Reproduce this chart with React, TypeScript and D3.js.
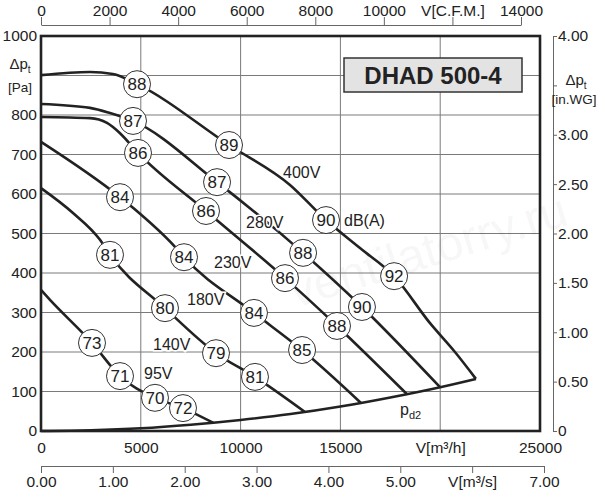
import { useRef, useEffect } from 'react';
import * as d3 from 'd3';

type Pt = [number, number]; // [m3/h, Pa]
type Lbl = [number, number, number]; // [m3/h, Pa, dB(A)]

// characteristic curves, read from the sheet
const curve400: Pt[] = [[0, 901], [2455, 909], [3600, 904], [4810, 878], [9420, 724], [12475, 623], [14280, 534], [15980, 463], [17690, 392], [19490, 273], [20740, 200], [21790, 132]];
const curve280: Pt[] = [[0, 828], [2455, 818], [3457, 805], [4610, 785], [8820, 630], [13130, 451], [16080, 314], [19990, 111]];
const curve230: Pt[] = [[0, 795], [2455, 792], [3307, 780], [3958, 754], [4860, 704], [8267, 557], [12225, 387], [14830, 266], [18340, 93]];
const curve180: Pt[] = [[0, 732], [3958, 592], [4609, 565], [6713, 466], [7165, 440], [10670, 299], [13080, 205], [16030, 71]];
const curve140: Pt[] = [[0, 615], [1603, 552], [2956, 484], [3457, 446], [6212, 311], [8768, 197], [10720, 137], [13226, 48]];
const curve95: Pt[] = [[0, 357], [451, 332], [2555, 223], [3958, 139], [5711, 84], [7114, 58], [8617, 21]];

const labels400: Lbl[] = [[4810, 878, 88], [9420, 724, 89], [14280, 534, 90], [17690, 392, 92]];
const labels280: Lbl[] = [[4610, 785, 87], [8820, 630, 87], [13130, 451, 88], [16080, 314, 90]];
const labels230: Lbl[] = [[4860, 704, 86], [8267, 557, 86], [12225, 387, 86], [14830, 266, 88]];
const labels180: Lbl[] = [[3958, 592, 84], [7165, 440, 84], [10670, 299, 84], [13080, 205, 85]];
const labels140: Lbl[] = [[3457, 446, 81], [6212, 311, 80], [8768, 197, 79], [10720, 137, 81]];
const labels95: Lbl[] = [[2555, 223, 73], [3958, 139, 71], [5711, 84, 70], [7114, 58, 72]];

// dynamic pressure line
const pd2Q = [0, 2500, 5000, 7500, 10000, 12500, 15000, 17500, 20000, 21790];
const pd2P = [0, 2, 7, 16, 28, 43, 62, 85, 111, 132];

// voltage / unit notes: [text, m3/h, Pa]
const notes: [string, number, number][] = [
  ['400V', 12124, 656],
  ['280V', 10270, 529],
  ['230V', 8667, 428],
  ['180V', 7315, 334],
  ['140V', 5611, 220],
  ['95V', 5160, 147],
  ['dB(A)', 15180, 534],
];

const gridQ = [5000, 10000, 15000, 20000];
const gridP = [100, 200, 300, 400, 500, 600, 700, 800, 900];
const m3hTicks = [0, 5000, 10000, 15000, 20000, 25000];
const paTicks = [0, 100, 200, 300, 400, 500, 600, 700, 800, 1000];
const cfmTicks = [0, 2000, 4000, 6000, 8000, 10000, 12000, 14000];
const m3sTicks = [0, 1, 2, 3, 4, 5, 6, 7];
const wgTicks = [0, 0.5, 1, 1.5, 2, 2.5, 3, 3.5, 4];

const FONT = '"Liberation Sans", Arial, sans-serif';
const INK = '#222';

export default function App() {
  const svgRef = useRef<SVGSVGElement>(null);

  useEffect(() => {
    if (!svgRef.current) return;
    const svg = d3.select(svgRef.current);
    svg.selectAll('*').remove();

    const x = d3.scaleLinear().domain([0, 25000]).range([41, 540]);
    const y = d3.scaleLinear().domain([0, 1000]).range([431, 36]);
    const xCfm = d3.scaleLinear().domain([0, 14000]).range([41, 521]);
    const xM3s = d3.scaleLinear().domain([0, 7]).range([41, 544]);
    const yWg = d3.scaleLinear().domain([0, 4]).range([431, 36]);

    // grid
    const grid = svg.append('g').attr('stroke', '#7a7a7a').attr('stroke-width', 1);
    gridQ.forEach((q) => grid.append('line').attr('x1', x(q)).attr('x2', x(q)).attr('y1', y(0)).attr('y2', y(1000)));
    gridP.forEach((p) => grid.append('line').attr('x1', x(0)).attr('x2', x(25000)).attr('y1', y(p)).attr('y2', y(p)));

    // watermark
    svg.append('text')
      .attr('transform', 'translate(428,250) rotate(-17)')
      .attr('text-anchor', 'middle').attr('dy', '0.35em')
      .attr('font-family', FONT).attr('font-size', 48)
      .attr('fill', '#000').attr('fill-opacity', 0.05)
      .text('ventilatorry.ru');

    const line = d3.line<Pt>().x((d) => x(d[0])).y((d) => y(d[1])).curve(d3.curveMonotoneX);

    // pd2
    const pd2: Pt[] = pd2Q.map((q, i) => [q, pd2P[i]]);
    svg.append('path').attr('d', line(pd2)).attr('fill', 'none')
      .attr('stroke', INK).attr('stroke-width', 2.6);

    const curves = [curve400, curve280, curve230, curve180, curve140, curve95];
    curves.forEach((c) => {
      svg.append('path').attr('d', line(c)).attr('fill', 'none')
        .attr('stroke', INK).attr('stroke-width', 2.6).attr('stroke-linejoin', 'round');
    });

    // frame
    svg.append('rect').attr('x', x(0)).attr('y', y(1000))
      .attr('width', x(25000) - x(0)).attr('height', y(0) - y(1000))
      .attr('fill', 'none').attr('stroke', INK).attr('stroke-width', 2.6);

    // voltage notes
    notes.forEach(([t, q, p]) => {
      svg.append('text').attr('x', x(q)).attr('y', y(p)).attr('dy', '0.36em')
        .attr('font-family', FONT).attr('font-size', 16).attr('fill', INK)
        .attr('stroke', '#fff').attr('stroke-width', 3).attr('paint-order', 'stroke')
        .text(t);
    });

    // pd2 label
    const pd = svg.append('text').attr('x', x(17990)).attr('y', y(53)).attr('dy', '0.3em')
      .attr('font-family', FONT).attr('font-size', 16).attr('fill', INK);
    pd.append('tspan').text('p');
    pd.append('tspan').attr('font-size', 11).attr('dy', 4).text('d2');

    // dB(A) circles
    const allLabels = [labels400, labels280, labels230, labels180, labels140, labels95].flat();
    const lg = svg.append('g').selectAll('g').data(allLabels).enter().append('g')
      .attr('transform', (d) => `translate(${x(d[0])},${y(d[1])})`);
    lg.append('circle').attr('r', 13.5).attr('fill', '#fff').attr('stroke', '#333').attr('stroke-width', 1);
    lg.append('text').attr('text-anchor', 'middle').attr('dy', '0.36em')
      .attr('font-family', FONT).attr('font-size', 17).attr('fill', INK)
      .text((d) => String(d[2]));

    // title box
    svg.append('rect').attr('x', 344).attr('y', 58).attr('width', 178).attr('height', 34)
      .attr('fill', '#e3e3e3').attr('stroke', '#333').attr('stroke-width', 1.5);
    svg.append('text').attr('x', 433).attr('y', 75).attr('dy', '0.36em')
      .attr('text-anchor', 'middle').attr('font-family', FONT)
      .attr('font-size', 24).attr('font-weight', 'bold').attr('fill', INK)
      .text('DHAD 500-4');

    const styleAxis = (g: d3.Selection<SVGGElement, unknown, null, undefined>, size: number) => {
      g.attr('font-family', FONT);
      g.selectAll('text').attr('fill', INK).attr('font-size', size);
      g.selectAll('line').attr('stroke', '#666');
      g.select('.domain').attr('stroke', '#666');
    };

    // top axis, CFM
    const top = svg.append('g').attr('transform', 'translate(0,25)')
      .call(d3.axisTop(xCfm).tickValues(cfmTicks).tickSize(8).tickSizeOuter(0).tickPadding(1)
        .tickFormat((d) => (d === 12000 ? 'V[C.F.M.]' : String(d))));
    styleAxis(top, 15.5);

    // bottom axis, m3/h
    const bot = svg.append('g').attr('transform', 'translate(0,431)')
      .call(d3.axisBottom(x).tickValues(m3hTicks).tickSize(0).tickPadding(11)
        .tickFormat((d) => (d === 20000 ? 'V[m³/h]' : String(d))));
    bot.select('.domain').remove();
    styleAxis(bot, 15.5);

    // bottom axis, m3/s
    const bot2 = svg.append('g').attr('transform', 'translate(0,466)')
      .call(d3.axisBottom(xM3s).tickValues(m3sTicks).tickSize(7).tickSizeOuter(0).tickPadding(3)
        .tickFormat((d) => (d === 6 ? 'V[m³/s]' : (d as number).toFixed(2))));
    styleAxis(bot2, 15.5);

    // left axis, Pa
    const left = svg.append('g').attr('transform', 'translate(41,0)')
      .call(d3.axisLeft(y).tickValues(paTicks).tickSize(0).tickPadding(4).tickFormat((d) => String(d)));
    left.select('.domain').remove();
    styleAxis(left, 15.5);

    // right axis, in.WG
    const right = svg.append('g').attr('transform', 'translate(553,0)')
      .call(d3.axisRight(yWg).tickValues(wgTicks).tickSize(4).tickSizeOuter(0).tickPadding(1)
        .tickFormat((d) => (d === 0 ? '0' : d === 3.5 ? '' : (d as number).toFixed(2))));
    styleAxis(right, 15.5);

    // axis titles
    const dp = (cx: number, cy: number) => {
      const t = svg.append('text').attr('x', cx).attr('y', cy).attr('dy', '0.36em')
        .attr('text-anchor', 'middle').attr('font-family', FONT).attr('font-size', 15).attr('fill', INK);
      t.append('tspan').text('Δp');
      t.append('tspan').attr('font-size', 10).attr('dy', 4).text('t');
    };
    dp(20, 64);
    dp(576, 80);
    svg.append('text').attr('x', 20).attr('y', 87).attr('dy', '0.36em').attr('text-anchor', 'middle')
      .attr('font-family', FONT).attr('font-size', 13.5).attr('fill', INK).text('[Pa]');
    svg.append('text').attr('x', 574).attr('y', 99).attr('dy', '0.36em').attr('text-anchor', 'middle')
      .attr('font-family', FONT).attr('font-size', 13.5).attr('fill', INK).text('[in.WG]');
  }, []);

  return (
    <svg
      ref={svgRef}
      width={600}
      height={500}
      style={{ position: 'absolute', left: 0, top: 0, background: '#fff', display: 'block' }}
    />
  );
}
